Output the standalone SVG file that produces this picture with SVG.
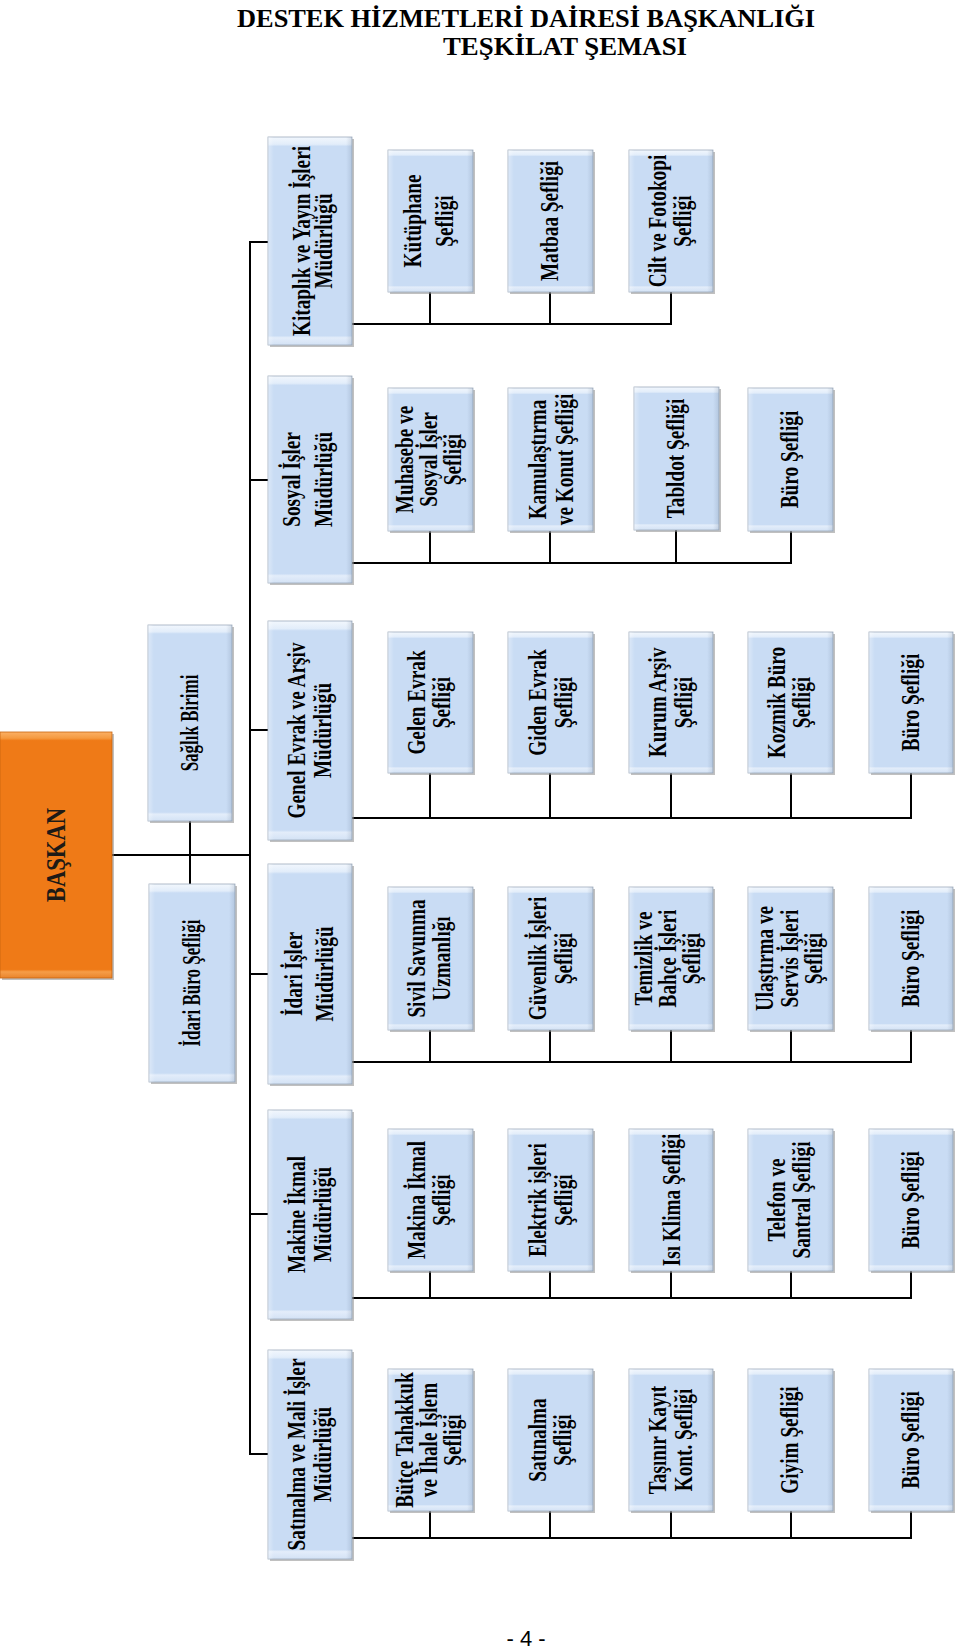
<svg xmlns="http://www.w3.org/2000/svg" width="960" height="1650" viewBox="0 0 960 1650">
<defs>
<linearGradient id="bv" x1="0" y1="0" x2="0" y2="1">
<stop offset="0" stop-color="#f2f7fd"/><stop offset="0.035" stop-color="#e2edfa"/><stop offset="0.045" stop-color="#c9dcf4"/><stop offset="0.955" stop-color="#c9dcf4"/><stop offset="0.965" stop-color="#e3edfa"/><stop offset="1" stop-color="#d3e2f5"/>
</linearGradient>
<linearGradient id="bh" x1="0" y1="0" x2="1" y2="0">
<stop offset="0" stop-color="#ffffff" stop-opacity="0.35"/><stop offset="0.07" stop-color="#ffffff" stop-opacity="0"/><stop offset="0.93" stop-color="#506480" stop-opacity="0"/><stop offset="1" stop-color="#506480" stop-opacity="0.18"/>
</linearGradient>
<linearGradient id="ov" x1="0" y1="0" x2="0" y2="1">
<stop offset="0" stop-color="#fbb065"/><stop offset="0.025" stop-color="#f59a40"/><stop offset="0.035" stop-color="#ef7a17"/><stop offset="0.965" stop-color="#ef7a17"/><stop offset="0.975" stop-color="#f69d48"/><stop offset="1" stop-color="#e9842c"/>
</linearGradient>
<style>
.sh{fill:#8c8c8c;opacity:0.55}
.bx{fill:url(#bv);stroke:#9eacbd;stroke-width:0.8}
.bo{fill:url(#bh)}
.orx{fill:url(#ov);stroke:#c9650f;stroke-width:0.8}
.t{font-family:"Liberation Serif","Times New Roman",serif;font-weight:bold;font-size:25px;text-anchor:middle;fill:#000}
.tb{font-family:"Liberation Serif","Times New Roman",serif;font-weight:bold;font-size:27px;text-anchor:middle;fill:#1e1a16}
.ttl{font-family:"Liberation Serif","Times New Roman",serif;font-weight:bold;font-size:25px;fill:#000}
.pg{font-family:"Liberation Sans",Arial,sans-serif;font-size:22px;text-anchor:middle;fill:#000}
#connectors path{fill:none;stroke:#000;stroke-width:2}
</style>
</defs>
<rect width="960" height="1650" fill="#fff"/>

<g id="title">
<text class="ttl" x="237" y="27" textLength="578" lengthAdjust="spacingAndGlyphs">DESTEK HİZMETLERİ DAİRESİ BAŞKANLIĞI</text>
<text class="ttl" x="443" y="55" textLength="244" lengthAdjust="spacingAndGlyphs">TEŞKİLAT ŞEMASI</text>
</g>

<g id="connectors">
<path d="M250 242V1455M112 855H250M190 821V884M249 242H268M249 480H268M249 730H268M249 974H268M249 1214H268M249 1454H268"/>
<path d="M352 324H672M430 292V324M550 292V324M671 292V324"/>
<path d="M352 563H792M430 531V563M550 531V563M676 530V563M791 531V563"/>
<path d="M352 818H912M430 773V818M550 773V818M671 773V818M791 773V818M911 773V818"/>
<path d="M352 1062H912M430 1030V1062M550 1030V1062M671 1030V1062M791 1030V1062M911 1030V1062"/>
<path d="M352 1298H912M430 1271V1298M550 1271V1298M671 1271V1298M791 1271V1298M911 1271V1298"/>
<path d="M352 1538H912M430 1511V1538M550 1511V1538M671 1511V1538M791 1511V1538M911 1511V1538"/>
</g>

<g id="baskan">
<rect class="sh" x="2" y="734" width="112" height="246"/>
<rect class="orx" x="0" y="732" width="112" height="246"/>
<g transform="translate(56,855) rotate(-90) scale(0.84,1)"><text class="tb" y="9">BAŞKAN</text></g>
</g>

<g id="saglik">
<rect class="sh" x="150" y="627" width="84" height="196"/><rect class="bx" x="148" y="625" width="84" height="196"/><rect class="bo" x="148" y="625" width="84" height="196"/>
<g transform="translate(190,723) rotate(-90) scale(0.68,1)"><text class="t" y="7.5">Sağlık Birimi</text></g>
</g>
<g id="idariburo">
<rect class="sh" x="151" y="886" width="86" height="198"/><rect class="bx" x="149" y="884" width="86" height="198"/><rect class="bo" x="149" y="884" width="86" height="198"/>
<g transform="translate(192,983) rotate(-90) scale(0.68,1)"><text class="t" y="7.5">İdari Büro Şefliği</text></g>
</g>

<g id="kitaplik">
<rect class="sh" x="270" y="139" width="84" height="208"/><rect class="bx" x="268" y="137" width="84" height="208"/><rect class="bo" x="268" y="137" width="84" height="208"/>
<g transform="translate(310,241) rotate(-90) scale(0.77,1)"><text class="t" y="0">Kitaplık ve Yayın İşleri</text><text class="t" y="22">Müdürlüğü</text></g>
</g>
<g id="sosyal">
<rect class="sh" x="270" y="378" width="84" height="207"/><rect class="bx" x="268" y="376" width="84" height="207"/><rect class="bo" x="268" y="376" width="84" height="207"/>
<g transform="translate(310,479.5) rotate(-90) scale(0.77,1)"><text class="t" y="-10">Sosyal İşler</text><text class="t" y="22">Müdürlüğü</text></g>
</g>
<g id="genelevrak">
<rect class="sh" x="270" y="623" width="84" height="219"/><rect class="bx" x="268" y="621" width="84" height="219"/><rect class="bo" x="268" y="621" width="84" height="219"/>
<g transform="translate(310,730.5) rotate(-90) scale(0.77,1)"><text class="t" y="-5">Genel Evrak ve Arşiv</text><text class="t" y="21">Müdürlüğü</text></g>
</g>
<g id="idariisler">
<rect class="sh" x="270" y="866" width="84" height="220"/><rect class="bx" x="268" y="864" width="84" height="220"/><rect class="bo" x="268" y="864" width="84" height="220"/>
<g transform="translate(310,974) rotate(-90) scale(0.77,1)"><text class="t" y="-8">İdari İşler</text><text class="t" y="23">Müdürlüğü</text></g>
</g>
<g id="makine">
<rect class="sh" x="270" y="1112" width="84" height="209"/><rect class="bx" x="268" y="1110" width="84" height="209"/><rect class="bo" x="268" y="1110" width="84" height="209"/>
<g transform="translate(310,1214.5) rotate(-90) scale(0.77,1)"><text class="t" y="-5">Makine İkmal</text><text class="t" y="21">Müdürlüğü</text></g>
</g>
<g id="satinalmamud">
<rect class="sh" x="270" y="1352" width="84" height="209"/><rect class="bx" x="268" y="1350" width="84" height="209"/><rect class="bo" x="268" y="1350" width="84" height="209"/>
<g transform="translate(310,1454.5) rotate(-90) scale(0.77,1)"><text class="t" y="-5">Satınalma ve Mali İşler</text><text class="t" y="21">Müdürlüğü</text></g>
</g>

<!-- Row 1 -->
<g id="kutuphane">
<rect class="sh" x="390" y="152" width="85" height="142"/><rect class="bx" x="388" y="150" width="85" height="142"/><rect class="bo" x="388" y="150" width="85" height="142"/>
<g transform="translate(430.5,221) rotate(-90) scale(0.77,1)"><text class="t" y="-9.5">Kütüphane</text><text class="t" y="22.5">Şefliği</text></g>
</g>
<g id="matbaa">
<rect class="sh" x="510" y="152" width="85" height="142"/><rect class="bx" x="508" y="150" width="85" height="142"/><rect class="bo" x="508" y="150" width="85" height="142"/>
<g transform="translate(550.5,221) rotate(-90) scale(0.77,1)"><text class="t" y="7.5">Matbaa Şefliği</text></g>
</g>
<g id="cilt">
<rect class="sh" x="631" y="152" width="84" height="142"/><rect class="bx" x="629" y="150" width="84" height="142"/><rect class="bo" x="629" y="150" width="84" height="142"/>
<g transform="translate(671,221) rotate(-90) scale(0.77,1)"><text class="t" y="-5">Cilt ve Fotokopi</text><text class="t" y="20">Şefliği</text></g>
</g>

<!-- Row 2 -->
<g id="muhasebe">
<rect class="sh" x="390" y="390" width="85" height="143"/><rect class="bx" x="388" y="388" width="85" height="143"/><rect class="bo" x="388" y="388" width="85" height="143"/>
<g transform="translate(430.5,459.5) rotate(-90) scale(0.77,1)"><text class="t" y="-17.5">Muhasebe ve</text><text class="t" y="6.5">Sosyal İşler</text><text class="t" y="30.5">Şefliği</text></g>
</g>
<g id="kamulastirma">
<rect class="sh" x="510" y="390" width="85" height="143"/><rect class="bx" x="508" y="388" width="85" height="143"/><rect class="bo" x="508" y="388" width="85" height="143"/>
<g transform="translate(550.5,459.5) rotate(-90) scale(0.77,1)"><text class="t" y="-4.5">Kamulaştırma</text><text class="t" y="22.5">ve Konut Şefliği</text></g>
</g>
<g id="tabldot">
<rect class="sh" x="636" y="389" width="85" height="143"/><rect class="bx" x="634" y="387" width="85" height="143"/><rect class="bo" x="634" y="387" width="85" height="143"/>
<g transform="translate(676.5,458.5) rotate(-90) scale(0.77,1)"><text class="t" y="7.5">Tabldot Şefliği</text></g>
</g>
<g id="buro-sosyal">
<rect class="sh" x="750" y="390" width="85" height="143"/><rect class="bx" x="748" y="388" width="85" height="143"/><rect class="bo" x="748" y="388" width="85" height="143"/>
<g transform="translate(790.5,459.5) rotate(-90) scale(0.77,1)"><text class="t" y="7.5">Büro Şefliği</text></g>
</g>

<!-- Row 3 -->
<g id="gelen">
<rect class="sh" x="390" y="634" width="85" height="141"/><rect class="bx" x="388" y="632" width="85" height="141"/><rect class="bo" x="388" y="632" width="85" height="141"/>
<g transform="translate(430.5,702.5) rotate(-90) scale(0.77,1)"><text class="t" y="-5.5">Gelen Evrak</text><text class="t" y="19.5">Şefliği</text></g>
</g>
<g id="giden">
<rect class="sh" x="510" y="634" width="85" height="141"/><rect class="bx" x="508" y="632" width="85" height="141"/><rect class="bo" x="508" y="632" width="85" height="141"/>
<g transform="translate(550.5,702.5) rotate(-90) scale(0.77,1)"><text class="t" y="-4.5">Giden Evrak</text><text class="t" y="21.5">Şefliği</text></g>
</g>
<g id="kurum">
<rect class="sh" x="631" y="634" width="84" height="141"/><rect class="bx" x="629" y="632" width="84" height="141"/><rect class="bo" x="629" y="632" width="84" height="141"/>
<g transform="translate(671,702.5) rotate(-90) scale(0.77,1)"><text class="t" y="-5">Kurum Arşiv</text><text class="t" y="21">Şefliği</text></g>
</g>
<g id="kozmik">
<rect class="sh" x="750" y="634" width="85" height="141"/><rect class="bx" x="748" y="632" width="85" height="141"/><rect class="bo" x="748" y="632" width="85" height="141"/>
<g transform="translate(790.5,702.5) rotate(-90) scale(0.77,1)"><text class="t" y="-5.5">Kozmik Büro</text><text class="t" y="19.5">Şefliği</text></g>
</g>
<g id="buro-genel">
<rect class="sh" x="871" y="634" width="84" height="141"/><rect class="bx" x="869" y="632" width="84" height="141"/><rect class="bo" x="869" y="632" width="84" height="141"/>
<g transform="translate(911,702.5) rotate(-90) scale(0.77,1)"><text class="t" y="7.5">Büro Şefliği</text></g>
</g>

<!-- Row 4 -->
<g id="sivil">
<rect class="sh" x="390" y="889" width="85" height="143"/><rect class="bx" x="388" y="887" width="85" height="143"/><rect class="bo" x="388" y="887" width="85" height="143"/>
<g transform="translate(430.5,958.5) rotate(-90) scale(0.77,1)"><text class="t" y="-5.5">Sivil Savunma</text><text class="t" y="19.5">Uzmanlığı</text></g>
</g>
<g id="guvenlik">
<rect class="sh" x="510" y="889" width="85" height="143"/><rect class="bx" x="508" y="887" width="85" height="143"/><rect class="bo" x="508" y="887" width="85" height="143"/>
<g transform="translate(550.5,958.5) rotate(-90) scale(0.77,1)"><text class="t" y="-4.5">Güvenlik İşleri</text><text class="t" y="21.5">Şefliği</text></g>
</g>
<g id="temizlik">
<rect class="sh" x="631" y="889" width="84" height="143"/><rect class="bx" x="629" y="887" width="84" height="143"/><rect class="bo" x="629" y="887" width="84" height="143"/>
<g transform="translate(671,958.5) rotate(-90) scale(0.77,1)"><text class="t" y="-19">Temizlik ve</text><text class="t" y="5">Bahçe İşleri</text><text class="t" y="29">Şefliği</text></g>
</g>
<g id="ulastirma">
<rect class="sh" x="750" y="889" width="85" height="143"/><rect class="bx" x="748" y="887" width="85" height="143"/><rect class="bo" x="748" y="887" width="85" height="143"/>
<g transform="translate(790.5,958.5) rotate(-90) scale(0.77,1)"><text class="t" y="-17.5">Ulaştırma ve</text><text class="t" y="7.5">Servis İşleri</text><text class="t" y="31.5">Şefliği</text></g>
</g>
<g id="buro-idari">
<rect class="sh" x="871" y="889" width="84" height="143"/><rect class="bx" x="869" y="887" width="84" height="143"/><rect class="bo" x="869" y="887" width="84" height="143"/>
<g transform="translate(911,958.5) rotate(-90) scale(0.77,1)"><text class="t" y="7.5">Büro Şefliği</text></g>
</g>

<!-- Row 5 -->
<g id="makina">
<rect class="sh" x="390" y="1131" width="85" height="142"/><rect class="bx" x="388" y="1129" width="85" height="142"/><rect class="bo" x="388" y="1129" width="85" height="142"/>
<g transform="translate(430.5,1200) rotate(-90) scale(0.77,1)"><text class="t" y="-5.5">Makina İkmal</text><text class="t" y="19.5">Şefliği</text></g>
</g>
<g id="elektrik">
<rect class="sh" x="510" y="1131" width="85" height="142"/><rect class="bx" x="508" y="1129" width="85" height="142"/><rect class="bo" x="508" y="1129" width="85" height="142"/>
<g transform="translate(550.5,1200) rotate(-90) scale(0.77,1)"><text class="t" y="-4.5">Elektrik işleri</text><text class="t" y="21.5">Şefliği</text></g>
</g>
<g id="isiklima">
<rect class="sh" x="631" y="1131" width="84" height="142"/><rect class="bx" x="629" y="1129" width="84" height="142"/><rect class="bo" x="629" y="1129" width="84" height="142"/>
<g transform="translate(671,1200) rotate(-90) scale(0.77,1)"><text class="t" y="9">Isı Klima Şefliği</text></g>
</g>
<g id="telefon">
<rect class="sh" x="750" y="1131" width="85" height="142"/><rect class="bx" x="748" y="1129" width="85" height="142"/><rect class="bo" x="748" y="1129" width="85" height="142"/>
<g transform="translate(790.5,1200) rotate(-90) scale(0.77,1)"><text class="t" y="-5.5">Telefon ve</text><text class="t" y="19.5">Santral Şefliği</text></g>
</g>
<g id="buro-makine">
<rect class="sh" x="871" y="1131" width="84" height="142"/><rect class="bx" x="869" y="1129" width="84" height="142"/><rect class="bo" x="869" y="1129" width="84" height="142"/>
<g transform="translate(911,1200) rotate(-90) scale(0.77,1)"><text class="t" y="7.5">Büro Şefliği</text></g>
</g>

<!-- Row 6 -->
<g id="butce">
<rect class="sh" x="390" y="1371" width="85" height="142"/><rect class="bx" x="388" y="1369" width="85" height="142"/><rect class="bo" x="388" y="1369" width="85" height="142"/>
<g transform="translate(430.5,1440) rotate(-90) scale(0.77,1)"><text class="t" y="-17.5">Bütçe Tahakkuk</text><text class="t" y="6.5">ve İhale İşlem</text><text class="t" y="30.5">Şefliği</text></g>
</g>
<g id="satinalmasef">
<rect class="sh" x="510" y="1371" width="85" height="142"/><rect class="bx" x="508" y="1369" width="85" height="142"/><rect class="bo" x="508" y="1369" width="85" height="142"/>
<g transform="translate(550.5,1440) rotate(-90) scale(0.77,1)"><text class="t" y="-4.5">Satınalma</text><text class="t" y="20.5">Şefliği</text></g>
</g>
<g id="tasinir">
<rect class="sh" x="631" y="1371" width="84" height="142"/><rect class="bx" x="629" y="1369" width="84" height="142"/><rect class="bo" x="629" y="1369" width="84" height="142"/>
<g transform="translate(671,1440) rotate(-90) scale(0.77,1)"><text class="t" y="-5">Taşınır Kayıt</text><text class="t" y="21">Kont. Şefliği</text></g>
</g>
<g id="giyim">
<rect class="sh" x="750" y="1371" width="85" height="142"/><rect class="bx" x="748" y="1369" width="85" height="142"/><rect class="bo" x="748" y="1369" width="85" height="142"/>
<g transform="translate(790.5,1440) rotate(-90) scale(0.77,1)"><text class="t" y="7.5">Giyim Şefliği</text></g>
</g>
<g id="buro-satinalma">
<rect class="sh" x="871" y="1371" width="84" height="142"/><rect class="bx" x="869" y="1369" width="84" height="142"/><rect class="bo" x="869" y="1369" width="84" height="142"/>
<g transform="translate(911,1440) rotate(-90) scale(0.77,1)"><text class="t" y="7.5">Büro Şefliği</text></g>
</g>

<text class="pg" x="526" y="1646">- 4 -</text>
</svg>
